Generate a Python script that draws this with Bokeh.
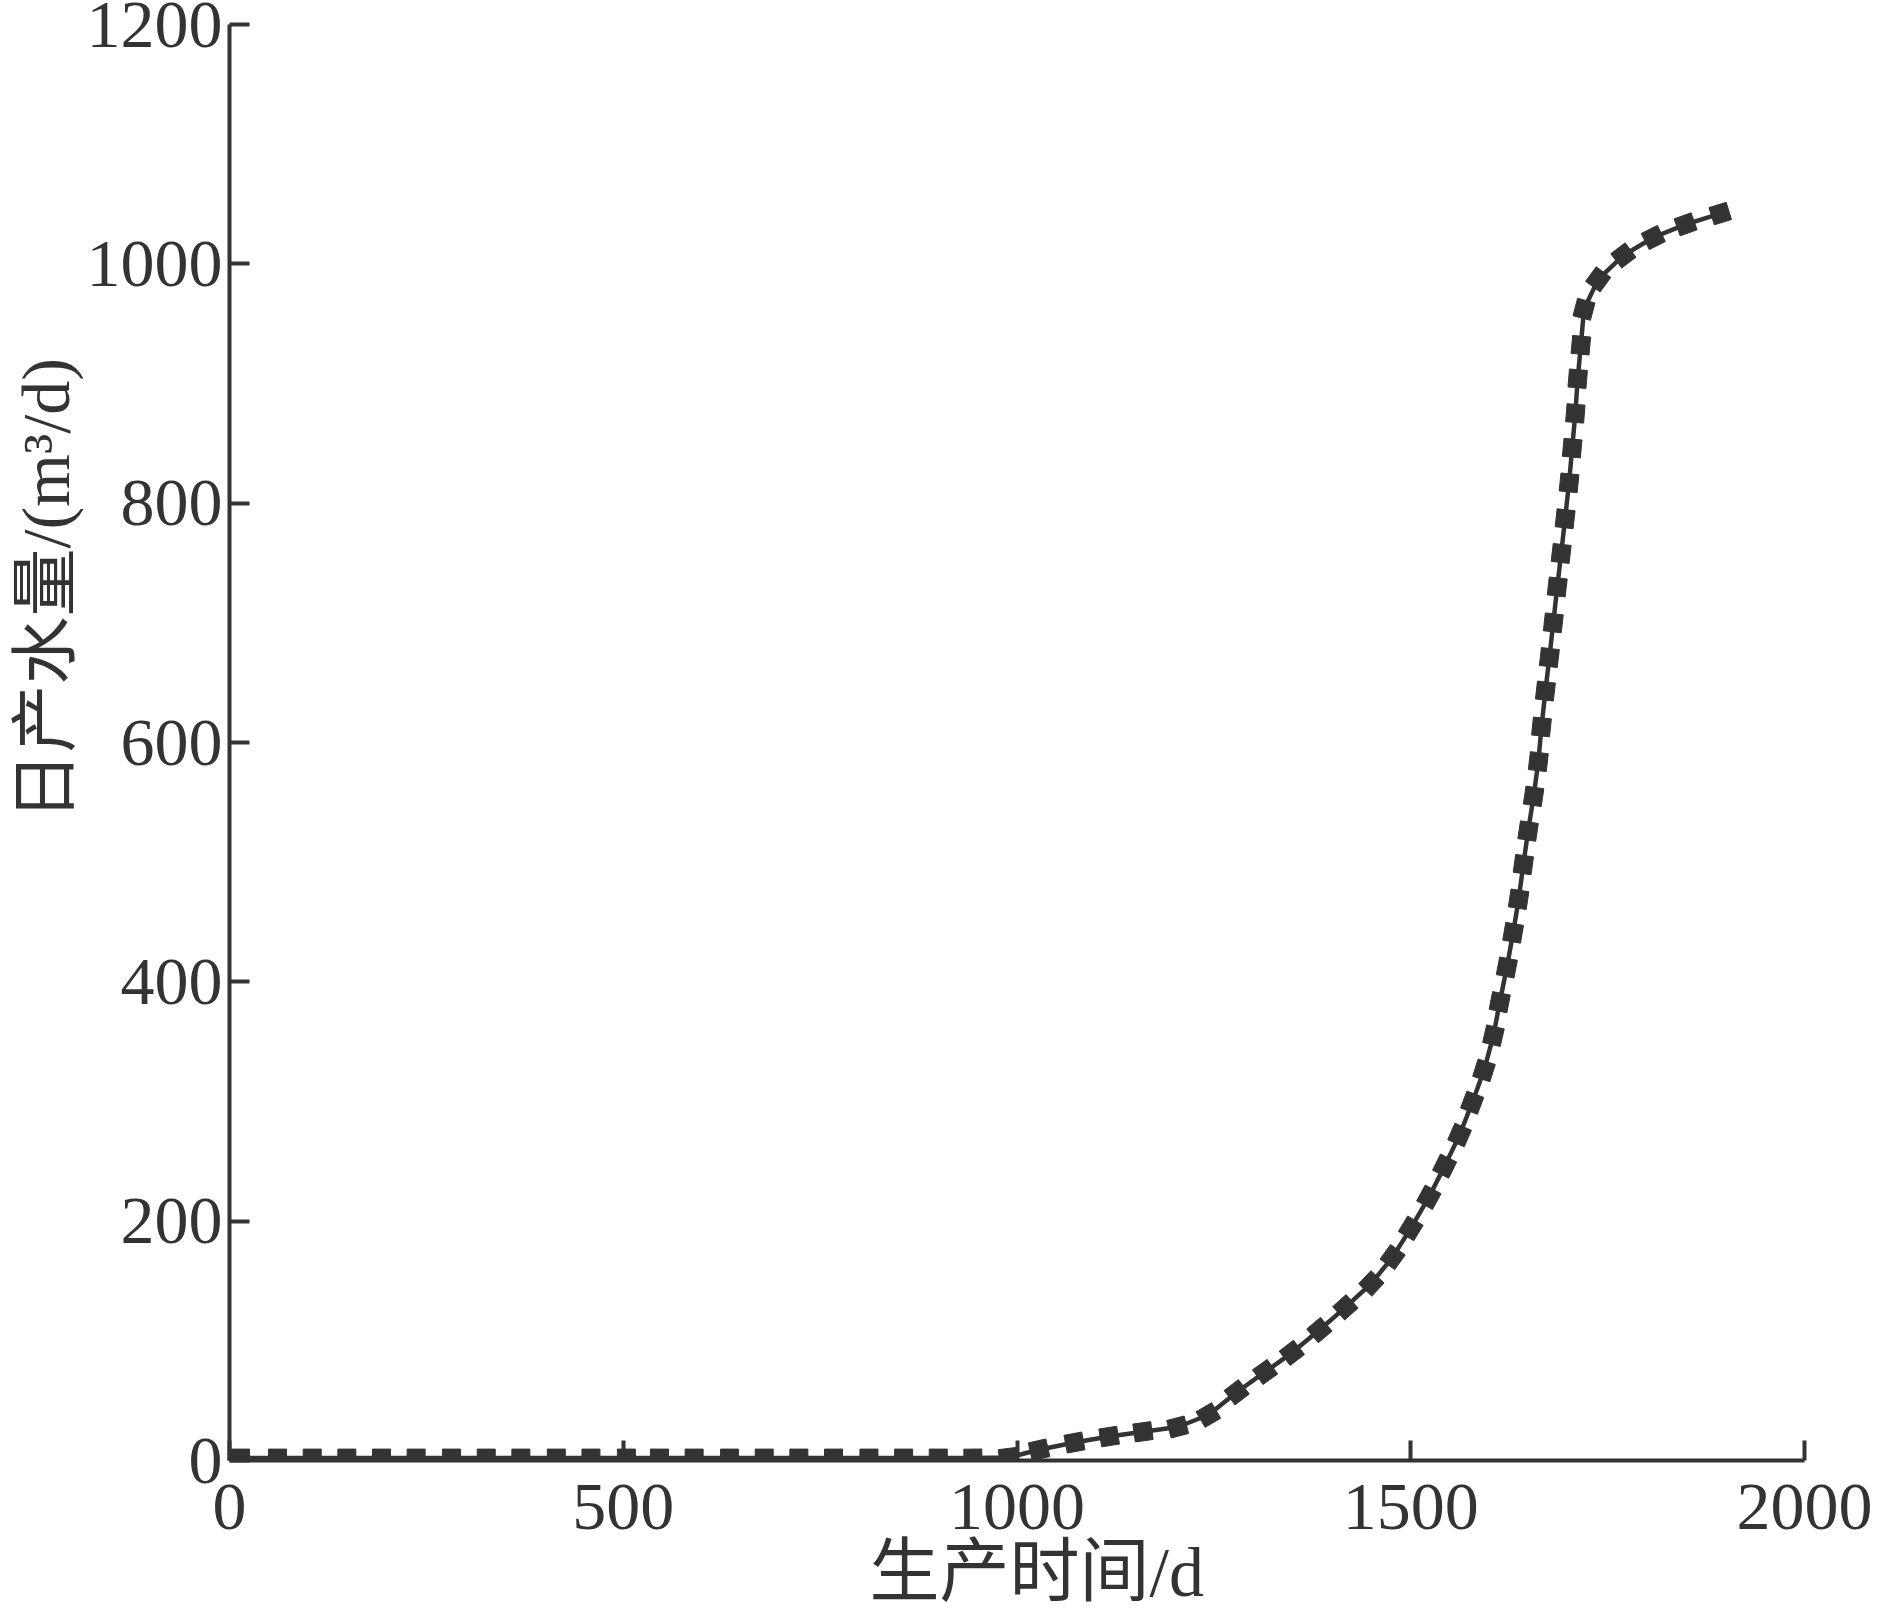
import math
from bokeh.plotting import figure
from bokeh.models import Range1d, FixedTicker, Title, ColumnDataSource
from bokeh.embed import file_html
from bokeh.resources import INLINE

# ---- data ----
days = [14, 61, 105, 149, 193, 237, 282, 326, 370, 415, 459, 504,
        546, 590, 635, 679, 723, 767, 812, 856, 900, 944, 989,
        1028, 1073, 1117, 1160, 1204, 1243, 1279, 1315, 1349, 1384, 1417, 1450,
        1477, 1500, 1523, 1543, 1562, 1578, 1593, 1605, 1613, 1622, 1630, 1637,
        1643, 1649, 1656, 1662, 1666, 1671, 1676, 1681, 1686, 1691, 1696, 1701,
        1705, 1709, 1712, 1716, 1720, 1738, 1770, 1808, 1849, 1893]
water = [2, 2, 2, 2, 2, 2, 2, 2, 2, 2, 2, 2,
         2, 2, 2, 2, 2, 2, 2, 2, 2, 2, 2.5,
         9, 15, 20, 24, 28, 38, 57, 74, 90, 109, 128, 148,
         170, 194, 220, 246, 272, 299, 326, 355, 383, 412, 441, 469,
         498, 526, 555, 584, 613, 643, 671, 700, 730, 758, 787, 817,
         846, 875, 904, 932, 962, 987, 1007, 1022, 1033, 1042]
line_start_day = 0
line_start_water = 2

x_ticks = [0, 500, 1000, 1500, 2000]
y_ticks = [0, 200, 400, 600, 800, 1000, 1200]
x_label = "生产时间/d"
y_label = "日产水量/(m³/d)"

# ---- layout ----
FW, FH = 1575, 1436
XMAX, YMAX = 2000, 1200
INK = "#333333"
FONT_MIX = "Liberation Serif, Noto Sans CJK SC"

p = figure(frame_width=FW, frame_height=FH,
           x_range=Range1d(0, XMAX), y_range=Range1d(0, YMAX),
           output_backend="svg", toolbar_location=None,
           min_border_left=229, min_border_right=78,
           min_border_top=24, min_border_bottom=150)
p.outline_line_color = None
p.grid.visible = False
p.background_fill_color = "white"
p.border_fill_color = "white"

for ax in (p.xaxis[0], p.yaxis[0]):
    ax.axis_line_color = INK
    ax.axis_line_width = 4
    ax.major_tick_line_color = INK
    ax.major_tick_line_width = 4
    ax.major_tick_in = 20
    ax.major_tick_out = 0
    ax.minor_tick_line_color = None
    ax.major_label_text_font = "Liberation Serif"
    ax.major_label_text_font_size = "68px"
    ax.major_label_text_color = INK

p.yaxis[0].major_label_standoff = 7
p.xaxis[0].major_label_standoff = 24
p.xaxis[0].ticker = FixedTicker(ticks=x_ticks)
p.yaxis[0].ticker = FixedTicker(ticks=y_ticks)

# axis titles as side titles (lets them sit off-centre, as in the reference)
p.add_layout(Title(text=x_label, align="left", offset=640,
                   text_font=FONT_MIX, text_font_size="70px",
                   text_font_style="normal", text_color=INK,
                   standoff=0), "below")
p.add_layout(Title(text=y_label, align="left", offset=640,
                   text_font=FONT_MIX, text_font_size="68px",
                   text_font_style="normal", text_color=INK,
                   standoff=0), "left")

# curve
lx = [line_start_day] + days
ly = [line_start_water] + water
p.line(lx, ly, line_color=INK, line_width=4.5)

# marker rotation follows the drawn curve direction on screen
sxu, syu = FW / XMAX, FH / YMAX
angles = []
n = len(days)
for i in range(n):
    a, b = max(i - 1, 0), min(i + 1, n - 1)
    angles.append(math.atan2((water[b] - water[a]) * syu, (days[b] - days[a]) * sxu))
src = ColumnDataSource(dict(x=days, y=water, angle=angles))
p.scatter("x", "y", source=src, marker="square", size=18, angle="angle",
          fill_color=INK, line_color=INK, line_width=1)

open("out.html", "w").write(file_html(p, INLINE))
